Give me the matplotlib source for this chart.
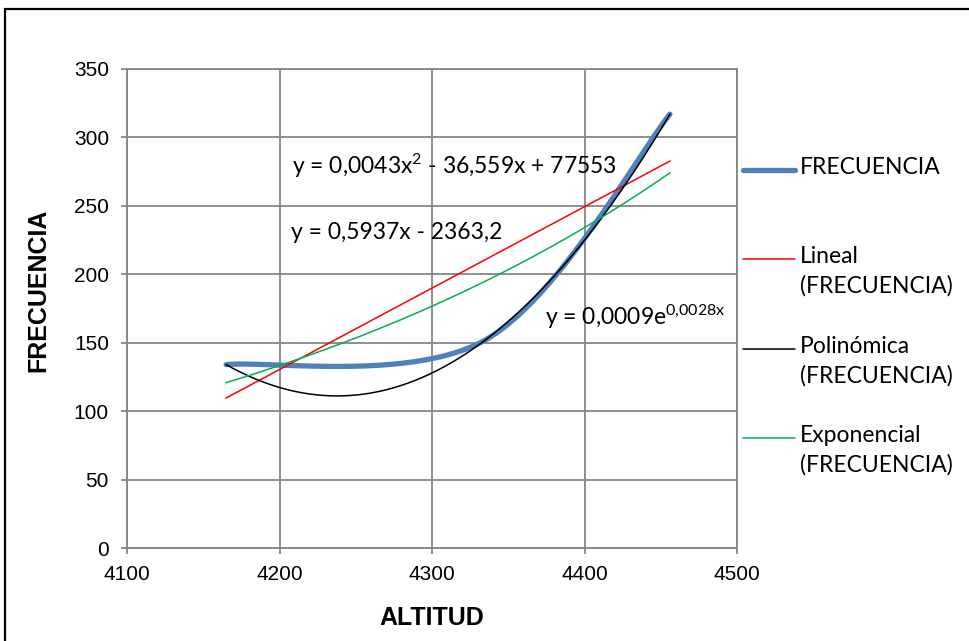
import numpy as np
import matplotlib
matplotlib.use('Agg')
import matplotlib.pyplot as plt
from matplotlib.lines import Line2D
from matplotlib.patches import Rectangle

# data
altitud = [4165, 4335, 4456]
frecuencia = [134, 152, 317]

x_ticks = [4100, 4200, 4300, 4400, 4500]
y_ticks = [0, 50, 100, 150, 200, 250, 300, 350]

eq_poly = r'y = 0,0043x$\mathregular{^{2}}$ - 36,559x + 77553'
eq_lin = 'y = 0,5937x - 2363,2'
eq_exp = r'y = 0,0009e$\mathregular{^{0{,}0028x}}$'

legend_labels = ['FRECUENCIA', 'Lineal\n(FRECUENCIA)',
                 'Polinómica\n(FRECUENCIA)', 'Exponencial\n(FRECUENCIA)']

BLUE = '#4F81BD'
RED = '#FF0000'
BLACK = '#000000'
GREEN = '#00B050'
GRID = '#868686'
CAL = ['Lato', 'DejaVu Sans']


def excel_smooth(xs, ys, n=80):
    # bezier smoothing like the "smoothed line" option of a spreadsheet
    P = np.column_stack([xs, ys]).astype(float)
    segs = []
    for i in range(len(P) - 1):
        p0 = P[i - 1] if i > 0 else P[i]
        p1, p2 = P[i], P[i + 1]
        p3 = P[i + 2] if i + 2 < len(P) else P[i + 1]
        c1 = p1 + (p2 - p0) / 6
        c2 = p2 - (p3 - p1) / 6
        t = np.linspace(0, 1, n)[:, None]
        segs.append((1 - t)**3 * p1 + 3 * (1 - t)**2 * t * c1
                    + 3 * (1 - t) * t**2 * c2 + t**3 * p2)
    return np.vstack(segs)


x = np.array(altitud, dtype=float)
y = np.array(frecuencia, dtype=float)
xf = np.linspace(x.min(), x.max(), 300)
lin = np.polyfit(x, y, 1)
quad = np.polyfit(x, y, 2)
expo = np.polyfit(x, np.log(y), 1)

W, H = 969, 641
fig = plt.figure(figsize=(W / 100, H / 100), dpi=100)
ax = fig.add_axes([127 / W, 1 - 548 / H, (737 - 127) / W, (548 - 69) / H])

curve = excel_smooth(x, y)
ax.plot(curve[:, 0], curve[:, 1], color=BLUE, lw=3.8, solid_capstyle='round', zorder=3)
ax.plot(xf, np.polyval(lin, xf), color=RED, lw=1.1, zorder=4)
ax.plot(xf, np.polyval(quad, xf), color=BLACK, lw=1.1, zorder=4)
ax.plot(xf, np.exp(np.polyval(expo, xf)), color=GREEN, lw=1.1, zorder=4)

ax.set_xlim(4100, 4500)
ax.set_ylim(0, 350)
ax.set_xticks(x_ticks)
ax.set_yticks(y_ticks)
ax.grid(True, color=GRID, lw=1.3)
ax.set_axisbelow(True)
for s in ax.spines.values():
    s.set_color(GRID)
    s.set_linewidth(1.3)
ax.tick_params(direction='out', length=4, width=1.3, color=GRID, labelsize=15)
for lab in ax.get_xticklabels() + ax.get_yticklabels():
    lab.set_family('Liberation Sans')
ax.tick_params(axis='x', pad=8)
ax.tick_params(axis='y', pad=9)

fig.text(38 / W, 1 - 290 / H, 'FRECUENCIA', rotation=90, ha='center', va='center',
         fontsize=18, fontweight='bold', family='Liberation Sans')
fig.text(432 / W, 1 - 618 / H, 'ALTITUD', ha='center', va='center',
         fontsize=18, fontweight='bold', family='Liberation Sans')

fig.text(292 / W, 1 - 166 / H, eq_poly, ha='left', va='center', fontsize=16.5, family=CAL)
fig.text(291 / W, 1 - 233 / H, eq_lin, ha='left', va='center', fontsize=16.5, family=CAL)
fig.text(545 / W, 1 - 317 / H, eq_exp, ha='left', va='center', fontsize=16.5, family=CAL)

# legend drawn by hand
handles = [(BLUE, 3.8, 170), (RED, 1.1, 259), (BLACK, 1.1, 349), (GREEN, 1.1, 438)]
for (col, lw, yc), lab in zip(handles, legend_labels):
    fig.add_artist(Line2D([743 / W, 795 / W], [1 - yc / H, 1 - yc / H], color=col, lw=lw,
                          solid_capstyle='round', transform=fig.transFigure))
    fig.text(800 / W, 1 - (yc - 13) / H, lab, ha='left', va='top', fontsize=16.5,
             family=CAL, linespacing=1.45)

fig.add_artist(Rectangle((5 / W, -0.1), 1.2, (1 - 9 / H) + 0.1, fill=False,
                         ec='black', lw=1.6, transform=fig.transFigure))

fig.savefig('out.png', dpi=100)
